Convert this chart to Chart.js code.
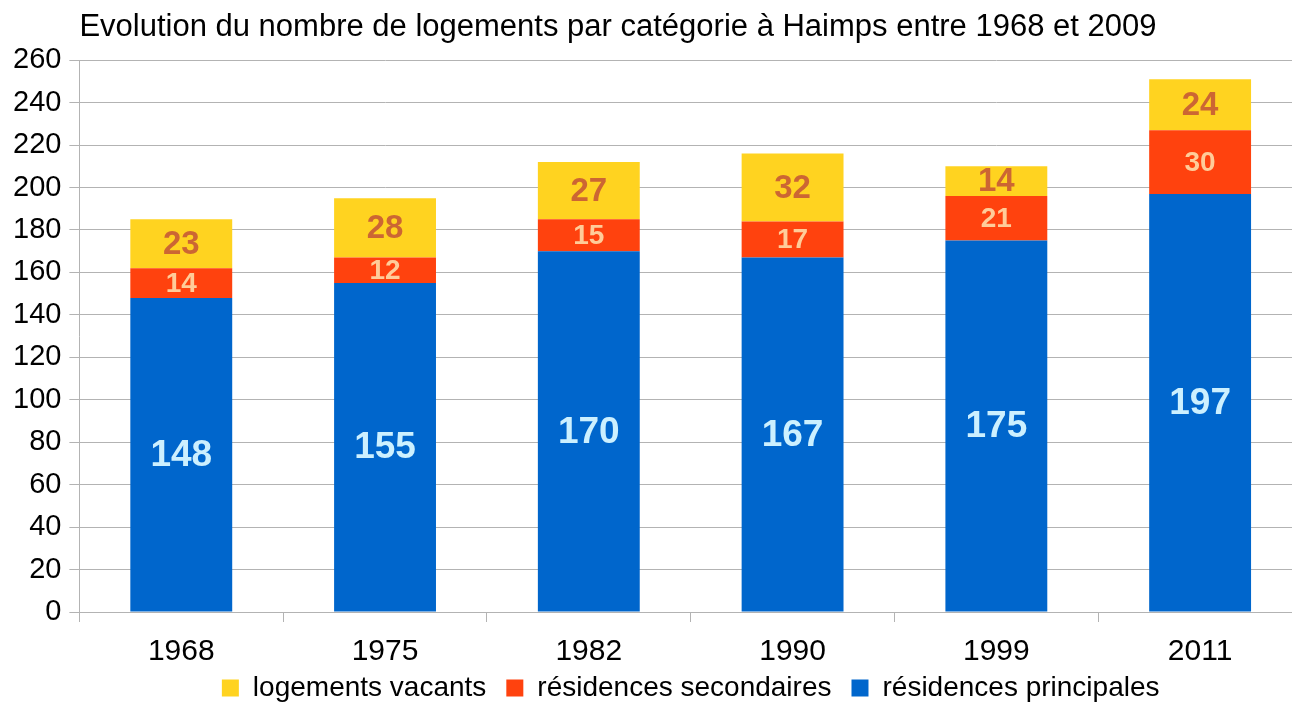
<!DOCTYPE html>
<html lang="fr">
<head>
  <meta charset="UTF-8">
  <title>Logements à Haimps</title>
  <script src="https://cdn.jsdelivr.net/npm/chart.js"></script>
  <style>
    body {
      margin: 0;
      padding: 0;
      background: #ffffff;
      overflow: hidden;
    }
    .chart-container {
      width: 1302px;
      height: 702px;
    }
  </style>
</head>
<body>
  <div class="chart-container">
    <canvas id="logementsChart"></canvas>
  </div>

  <script>
    // Data
    const years = ['1968', '1975', '1982', '1990', '1999', '2011'];
    const principales = [148, 155, 170, 167, 175, 197];
    const secondaires = [14, 12, 15, 17, 21, 30];
    const vacants = [23, 28, 27, 32, 14, 24];
    const yTicks = [0, 20, 40, 60, 80, 100, 120, 140, 160, 180, 200, 220, 240, 260];

    const FONT = "'Liberation Sans', Arial, sans-serif";
    const LEGEND_TRIM = 28; // legend padding is wide sideways, trim it vertically

    // Draw the value in the middle of each bar segment
    const segmentLabels = {
      id: 'segmentLabels',
      afterDatasetsDraw(chart) {
        const ctx = chart.ctx;
        chart.data.datasets.forEach((ds, i) => {
          const meta = chart.getDatasetMeta(i);
          if (meta.hidden) return;
          meta.data.forEach((bar, j) => {
            const yMid = (bar.y + bar.base) / 2;
            ctx.save();
            ctx.font = 'bold ' + ds.labelSize + 'px ' + FONT;
            ctx.fillStyle = ds.labelColor;
            ctx.textAlign = 'center';
            ctx.textBaseline = 'middle';
            ctx.fillText(ds.data[j], bar.x, yMid + 1);
            ctx.restore();
          });
        });
      }
    };

    // Make the legend take less height so the plot reaches lower
    const legendTrim = {
      id: 'legendTrim',
      beforeUpdate(chart) {
        const lg = chart.legend;
        if (lg && !lg._trimmed) {
          const fit = lg.fit;
          lg.fit = function () {
            fit.call(this);
            this.height -= LEGEND_TRIM;
          };
          lg._trimmed = true;
        }
      },
      afterLayout(chart) {
        // move the top up again but keep the bottom, so nothing is clipped
        chart.legend.top -= LEGEND_TRIM;
      }
    };

    const ctx = document.getElementById('logementsChart').getContext('2d');
    new Chart(ctx, {
      type: 'bar',
      data: {
        labels: years,
        datasets: [
          {
            label: 'résidences principales',
            data: principales,
            backgroundColor: '#0066cc',
            labelColor: '#ccf0ff',
            labelSize: 37
          },
          {
            label: 'résidences secondaires',
            data: secondaires,
            backgroundColor: '#ff420e',
            labelColor: '#ffcc99',
            labelSize: 28
          },
          {
            label: 'logements vacants',
            data: vacants,
            backgroundColor: '#ffd320',
            labelColor: '#cc6633',
            labelSize: 33
          }
        ]
      },
      options: {
        responsive: true,
        maintainAspectRatio: false,
        animation: false,
        layout: { padding: { top: 0, right: 0, bottom: -10, left: 5 } },
        datasets: {
          bar: { barPercentage: 0.5, categoryPercentage: 1.0 }
        },
        plugins: {
          title: {
            display: true,
            text: 'Evolution du nombre de logements par catégorie à Haimps entre 1968 et 2009',
            align: 'start',
            fullSize: false,
            color: '#000',
            font: { family: FONT, size: 31, weight: 'normal' },
            padding: { top: 9, bottom: 14 }
          },
          legend: {
            position: 'bottom',
            reverse: true,
            fullSize: false,
            labels: {
              color: '#000',
              font: { family: FONT, size: 28 },
              boxWidth: 17,
              boxHeight: 17,
              padding: 20
            }
          },
          tooltip: { enabled: false }
        },
        scales: {
          x: {
            stacked: true,
            ticks: {
              color: '#000',
              font: { family: FONT, size: 30 },
              padding: 12,
              maxRotation: 0
            },
            grid: {
              offset: true,
              drawOnChartArea: false,
              color: '#b3b3b3',
              tickLength: 10
            },
            border: { color: '#b3b3b3' }
          },
          y: {
            stacked: true,
            min: 0,
            max: 260,
            afterBuildTicks: axis => {
              axis.ticks = yTicks.map(v => ({ value: v }));
            },
            ticks: {
              color: '#000',
              font: { family: FONT, size: 29 },
              padding: 8
            },
            grid: {
              color: '#b3b3b3',
              tickLength: 10
            },
            border: { color: '#b3b3b3' }
          }
        }
      },
      plugins: [segmentLabels, legendTrim]
    });
  </script>
</body>
</html>
